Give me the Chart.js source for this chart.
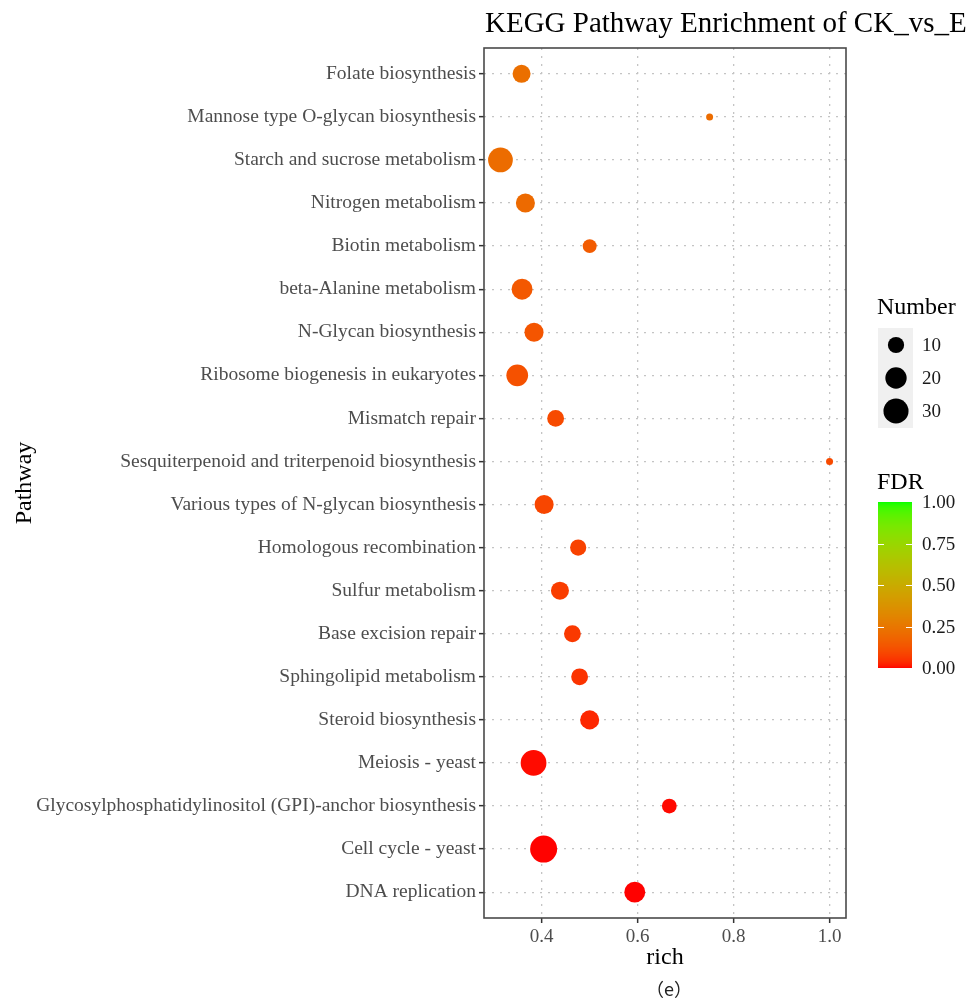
<!DOCTYPE html>
<html>
<head>
<meta charset="utf-8">
<title>KEGG Pathway Enrichment of CK_vs_E</title>
<script src="https://cdn.jsdelivr.net/npm/chart.js@4.4.1/dist/chart.umd.min.js"></script>
<style>
  html, body { margin: 0; padding: 0; background: #fff; }
  #wrap { width: 970px; height: 999px; }
</style>
</head>
<body>
<div id="wrap"><canvas id="chart" width="970" height="999"></canvas></div>
<script>
// Pathways, top to bottom as shown on the y axis
const pathways = [
  'Folate biosynthesis',
  'Mannose type O-glycan biosynthesis',
  'Starch and sucrose metabolism',
  'Nitrogen metabolism',
  'Biotin metabolism',
  'beta-Alanine metabolism',
  'N-Glycan biosynthesis',
  'Ribosome biogenesis in eukaryotes',
  'Mismatch repair',
  'Sesquiterpenoid and triterpenoid biosynthesis',
  'Various types of N-glycan biosynthesis',
  'Homologous recombination',
  'Sulfur metabolism',
  'Base excision repair',
  'Sphingolipid metabolism',
  'Steroid biosynthesis',
  'Meiosis - yeast',
  'Glycosylphosphatidylinositol (GPI)-anchor biosynthesis',
  'Cell cycle - yeast',
  'DNA replication'
];
const richFactor = [0.358, 0.750, 0.314, 0.366, 0.500, 0.359, 0.384, 0.349, 0.429, 1.000,
                    0.405, 0.476, 0.438, 0.464, 0.479, 0.500, 0.383, 0.666, 0.404, 0.594];
const geneNumber = [13, 3, 29, 15, 7, 19, 15, 21, 11, 3,
                    15, 10, 13, 11, 11, 15, 32, 8, 36, 19];
const fdrValues  = [0.22, 0.21, 0.21, 0.20, 0.15, 0.14, 0.13, 0.12, 0.10, 0.10,
                    0.09, 0.08, 0.07, 0.06, 0.05, 0.03, 0.005, 0.004, 0.001, 0.0005];

const xTicks = [0.4, 0.6, 0.8, 1.0];
const sizeBreaks = [10, 20, 30];
const fdrBreaks = [0, 0.25, 0.5, 0.75, 1];

const SERIF = '"Liberation Serif", "Times New Roman", serif';

// ggplot-like 5% expansion of the x range
const xLo = Math.min(...richFactor), xHi = Math.max(...richFactor);
const xPad = (xHi - xLo) * 0.05;

// size scale: area-style mapping between smallest and largest gene count
const nMin = Math.min(...geneNumber), nMax = Math.max(...geneNumber);
function radiusFor(n) {
  const t = Math.max(0, (n - nMin) / (nMax - nMin));
  return (7 + 20 * Math.sqrt(t)) / 2;
}

// colour scale red -> green interpolated in Lab (like scale_colour_gradient)
function lin(c) { c /= 255; return c <= 0.04045 ? c / 12.92 : Math.pow((c + 0.055) / 1.055, 2.4); }
function gam(c) { c = c <= 0.0031308 ? 12.92 * c : 1.055 * Math.pow(c, 1 / 2.4) - 0.055; return Math.round(Math.min(1, Math.max(0, c)) * 255); }
function toLab(rgb) {
  const [r, g, b] = rgb.map(lin);
  const X = (0.4124 * r + 0.3576 * g + 0.1805 * b) / 0.95047;
  const Y = 0.2126 * r + 0.7152 * g + 0.0722 * b;
  const Z = (0.0193 * r + 0.1192 * g + 0.9505 * b) / 1.08883;
  const f = v => v > 0.008856 ? Math.cbrt(v) : 7.787 * v + 16 / 116;
  return [116 * f(Y) - 16, 500 * (f(X) - f(Y)), 200 * (f(Y) - f(Z))];
}
function fromLab(lab) {
  const fy = (lab[0] + 16) / 116, fx = fy + lab[1] / 500, fz = fy - lab[2] / 200;
  const inv = v => v > 0.206893 ? v * v * v : (v - 16 / 116) / 7.787;
  const X = inv(fx) * 0.95047, Y = inv(fy), Z = inv(fz) * 1.08883;
  const r = 3.2406 * X - 1.5372 * Y - 0.4986 * Z;
  const g = -0.9689 * X + 1.8758 * Y + 0.0415 * Z;
  const b = 0.0557 * X - 0.2040 * Y + 1.0570 * Z;
  return 'rgb(' + gam(r) + ',' + gam(g) + ',' + gam(b) + ')';
}
const labLow = toLab([255, 0, 0]), labHigh = toLab([0, 255, 0]);
function fdrColor(v) {
  return fromLab(labLow.map((c, i) => c + (labHigh[i] - c) * v));
}

const points = pathways.map((_, i) => ({ x: richFactor[i], y: i }));

// panel border, title, caption and the two legends
const decorPlugin = {
  id: 'decor',
  beforeDatasetsDraw(chart) {
    const { ctx, chartArea: a } = chart;
    ctx.save();
    ctx.strokeStyle = '#4a4a4a';
    ctx.lineWidth = 1.6;
    ctx.strokeRect(a.left, a.top, a.right - a.left, a.bottom - a.top);
    ctx.restore();
  },
  afterDraw(chart) {
    const ctx = chart.ctx;
    ctx.save();
    ctx.fillStyle = '#000';
    ctx.textBaseline = 'alphabetic';
    ctx.textAlign = 'left';
    // fit the title between the panel's left edge and the page edge
    const title = 'KEGG Pathway Enrichment of CK_vs_E';
    ctx.font = '30px ' + SERIF;
    const fs = Math.min(30, 30 * 481 / ctx.measureText(title).width);
    ctx.font = fs.toFixed(1) + 'px ' + SERIF;
    ctx.fillText(title, 485, 32);

    ctx.textAlign = 'center';
    ctx.textBaseline = 'middle';
    ctx.font = '18px "Noto Sans CJK SC", "Noto Sans", sans-serif';
    ctx.fillStyle = '#222';
    ctx.fillText('（e）', 669, 989);

    // size legend
    ctx.textAlign = 'left';
    ctx.fillStyle = '#000';
    ctx.font = '24px ' + SERIF;
    ctx.fillText('Number', 877, 308);
    ctx.fillStyle = '#f0f0f0';
    ctx.fillRect(878, 328, 35, 100);
    const keyY = [345, 378, 411];
    sizeBreaks.forEach((n, i) => {
      ctx.fillStyle = '#000';
      ctx.beginPath();
      ctx.arc(896, keyY[i], radiusFor(n), 0, Math.PI * 2);
      ctx.fill();
      ctx.fillStyle = '#1a1a1a';
      ctx.font = '19px ' + SERIF;
      ctx.fillText(String(n), 922, keyY[i] + 1);
    });

    // colour bar legend
    ctx.fillStyle = '#000';
    ctx.font = '24px ' + SERIF;
    ctx.fillText('FDR', 877, 483);
    const bx = 878, bw = 34, top = 502, bot = 668;
    for (let y = top; y < bot; y++) {
      ctx.fillStyle = fdrColor(1 - (y + 0.5 - top) / (bot - top));
      ctx.fillRect(bx, y, bw, 1);
    }
    ctx.strokeStyle = '#fff';
    ctx.lineWidth = 1;
    fdrBreaks.forEach(v => {
      const y = Math.round(bot - v * (bot - top)) + 0.5;
      if (v > 0 && v < 1) {
        ctx.beginPath();
        ctx.moveTo(bx, y); ctx.lineTo(bx + 6, y);
        ctx.moveTo(bx + bw - 6, y); ctx.lineTo(bx + bw, y);
        ctx.stroke();
      }
      ctx.fillStyle = '#1a1a1a';
      ctx.font = '19px ' + SERIF;
      ctx.fillText(v.toFixed(2), 922, y + 1);
    });
    ctx.restore();
  }
};

new Chart(document.getElementById('chart'), {
  type: 'scatter',
  data: {
    datasets: [{
      data: points,
      pointRadius: geneNumber.map(radiusFor),
      pointHoverRadius: geneNumber.map(radiusFor),
      pointBackgroundColor: fdrValues.map(fdrColor),
      pointBorderWidth: 0,
      clip: false
    }]
  },
  options: {
    responsive: false,
    animation: false,
    devicePixelRatio: 1,
    layout: { padding: { left: 0, top: 48, right: 124, bottom: 0 } },
    plugins: { legend: { display: false }, tooltip: { enabled: false }, title: { display: false } },
    scales: {
      x: {
        type: 'linear',
        min: xLo - xPad,
        max: xHi + xPad,
        afterBuildTicks: s => { s.ticks = xTicks.map(v => ({ value: v })); },
        afterFit: s => { s.height = 81; },
        border: { display: false, dash: [2, 6] },
        grid: { color: '#c4c4c4', lineWidth: 1.3, tickLength: 5, tickColor: '#333', tickWidth: 1.5, tickBorderDash: [] },
        ticks: { color: '#4d4d4d', padding: 3, font: { family: SERIF, size: 19 }, callback: v => v.toFixed(1) },
        title: { display: true, text: 'rich', color: '#000', font: { family: SERIF, size: 24 }, padding: { top: 0, bottom: 27 } }
      },
      y: {
        type: 'linear',
        reverse: true,
        min: -0.6,
        max: pathways.length - 1 + 0.6,
        afterBuildTicks: s => { s.ticks = pathways.map((_, i) => ({ value: i })); },
        afterFit: s => { s.width = 484; },
        border: { display: false, dash: [2, 6] },
        grid: { color: '#c4c4c4', lineWidth: 1.3, tickLength: 5, tickColor: '#333', tickWidth: 1.5, tickBorderDash: [] },
        ticks: { color: '#4d4d4d', padding: 3, font: { family: SERIF, size: 19.5 }, callback: v => pathways[v] },
        title: { display: true, text: 'Pathway', color: '#000', font: { family: SERIF, size: 24 }, padding: { top: 10, bottom: 0 } }
      }
    }
  },
  plugins: [decorPlugin]
});
</script>
</body>
</html>
